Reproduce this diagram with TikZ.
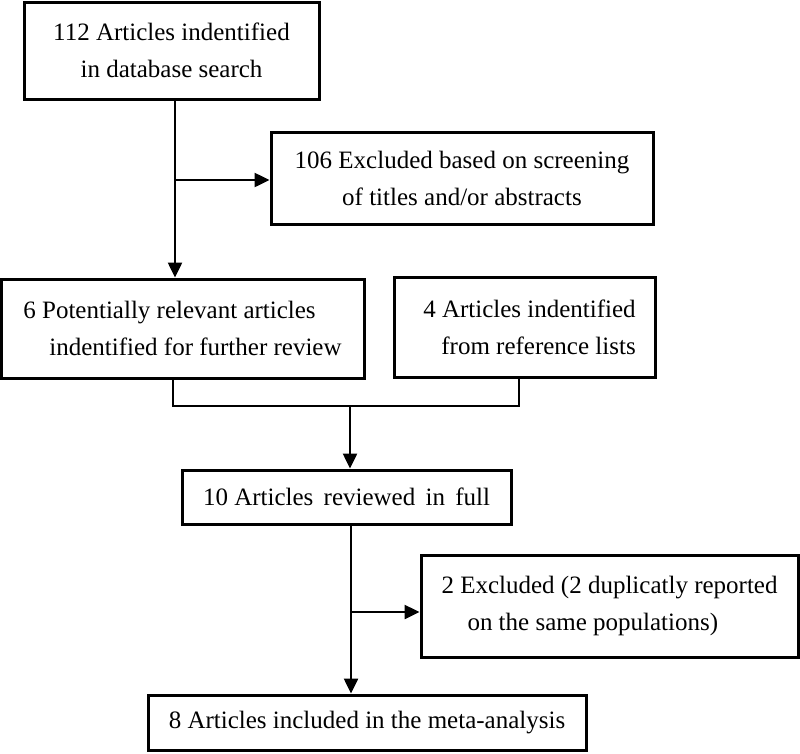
\documentclass[tikz,border=0pt]{standalone}
\usepackage{fontspec}
\setmainfont{Liberation Serif}
\usetikzlibrary{arrows.meta,calc}
\begin{document}
\begin{tikzpicture}[x=1pt,y=-1pt,
  box/.style={draw=black,line width=3pt,inner sep=0pt,font=\fontsize{25}{37}\selectfont},
  conn/.style={draw=black,line width=2.5pt},
  arr/.style={conn,-{Triangle[length=15pt,width=14pt]}}]
\useasboundingbox (0,0) rectangle (800,753);
\fill[white] (0,0) rectangle (800,753);
\node[box,minimum width=295pt,minimum height=97pt,align=center] (b1) at (171.5,50.5)
  {112 Articles indentified\\in database search};
\node[box,minimum width=382pt,minimum height=92pt,align=center] (b2) at (462,178)
  {106 Excluded based on screening\\of titles and/or abstracts};
\node[box,minimum width=363pt,minimum height=99pt,align=left] (b3) at (182.5,328.5)
  {6 Potentially relevant articles\\\hspace*{26pt}indentified for further review};
\node[box,minimum width=261pt,minimum height=100pt,align=right] (b4) at (524.5,327)
  {\hspace*{10pt}4 Articles indentified\\from reference lists};
\node[box,minimum width=329pt,minimum height=54pt] (b5) at (346.5,497)
  {10 Articles\hspace{4pt} reviewed\hspace{4pt} in\hspace{4pt} full};
\node[box,minimum width=377pt,minimum height=102pt,align=left] (b6) at (609.5,606)
  {2 Excluded (2 duplicatly reported\\\hspace*{26pt}on the same populations)};
\node[box,minimum width=438pt,minimum height=55pt] (b7) at (367,722.5)
  {8 Articles included in the meta-analysis};
% connectors
\coordinate (j1) at (175,180);
\draw[arr] (b1.south -| j1) -- (b3.north -| j1);
\draw[arr] (j1) -- (j1 -| b2.west);
\coordinate (m1) at (173,406);
\coordinate (m2) at (519,406);
\coordinate (m3) at (350,406);
\draw[conn] (b3.south -| m1) -- (m1) -- (m2) -- (b4.south -| m2);
\draw[arr] (m3) -- (b5.north -| m3);
\coordinate (j2) at (351,612);
\draw[arr] (b5.south -| j2) -- (b7.north -| j2);
\draw[arr] (j2) -- (j2 -| b6.west);
\end{tikzpicture}
\end{document}
